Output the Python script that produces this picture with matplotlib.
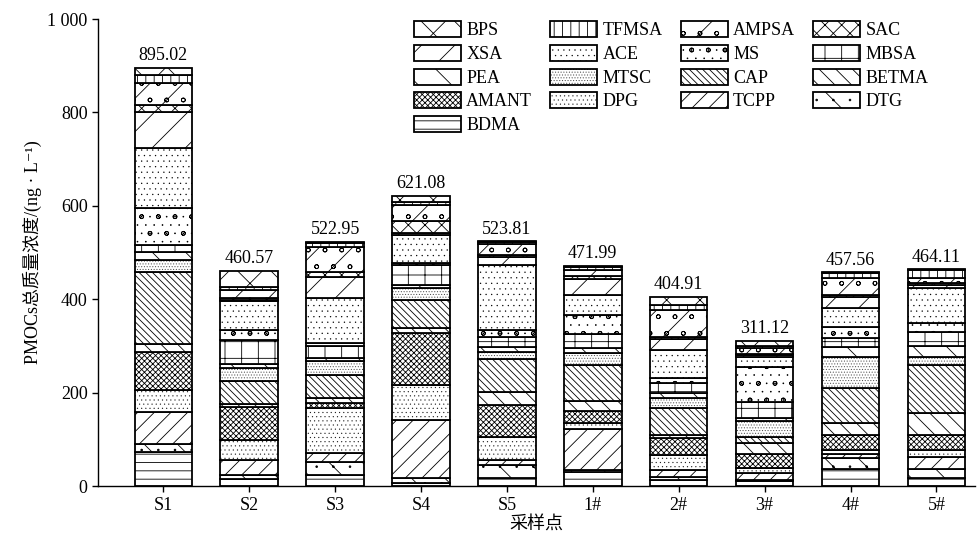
import numpy as np
import matplotlib
matplotlib.use("Agg")
import matplotlib.pyplot as plt
import matplotlib.hatch as mhatch

plt.rcParams['font.family'] = ['Liberation Serif', 'Noto Sans CJK SC', 'DejaVu Serif']
plt.rcParams['hatch.linewidth'] = 0.6

# finer dots and circles for the stippled fills
mhatch.SmallFilledCircles.size = 0.05
mhatch.SmallCircles.size = 0.12

samples = ['S1', 'S2', 'S3', 'S4', 'S5', '1#', '2#', '3#', '4#', '5#']

# concentrations per compound (ng/L), stacked bottom to top
BDMA = [73.5, 14.3, 23.6, 7.1, 16.4, 30.0, 12.8, 11.0, 35.7, 18.0]
DTG = [16.5, 8.5, 28.5, 9.3, 28.6, 5.0, 7.2, 2.5, 23.5, 18.0]
TCPP = [69.0, 32.2, 17.9, 124.9, 10.7, 87.8, 14.3, 13.6, 9.3, 26.8]
DPG = [46.6, 42.8, 96.3, 75.0, 49.9, 12.1, 32.1, 12.8, 8.6, 14.3]
AMANT = [82.0, 71.4, 10.7, 112.0, 67.8, 25.0, 35.6, 28.6, 32.1, 32.1]
BETMA = [16.4, 7.1, 10.7, 9.3, 28.6, 22.8, 7.2, 24.3, 25.0, 46.4]
CAP = [155.0, 47.8, 50.0, 60.7, 69.9, 75.7, 57.1, 12.8, 74.9, 103.5]
MTSC = [25.0, 28.6, 30.0, 25.0, 15.8, 26.4, 21.4, 34.3, 66.4, 17.8]
PEA = [17.7, 9.3, 5.7, 7.1, 10.7, 10.7, 10.7, 5.0, 21.4, 22.9]
MBSA = [14.3, 50.1, 27.0, 42.1, 21.3, 30.0, 22.9, 35.1, 19.3, 30.7]
MS = [78.6, 21.4, 5.1, 5.7, 14.3, 41.3, 9.3, 74.1, 24.9, 17.8]
ACE = [128.4, 62.1, 96.4, 58.6, 139.2, 42.9, 60.6, 22.8, 39.3, 75.0]
XSA = [78.5, 4.0, 46.3, 4.3, 18.1, 34.2, 22.9, 3.0, 24.6, 7.1]
SAC = [14.3, 3.2, 10.7, 27.1, 3.5, 5.1, 5.7, 2.0, 5.0, 4.6]
AMPSA = [47.8, 16.4, 53.6, 33.5, 22.9, 14.2, 57.1, 14.3, 34.7, 9.7]
TFMSA = [16.4, 7.1, 7.0, 7.1, 4.0, 5.0, 10.7, 3.6, 10.8, 17.3]
BPS = [15.02, 34.27, 3.45, 12.28, 2.11, 3.79, 17.31, 11.32, 2.06, 2.11]

stack = [
    ('BDMA', BDMA, '--'),
    ('DTG', DTG, '\\.'),
    ('TCPP', TCPP, '//'),
    ('DPG', DPG, '....'),
    ('AMANT', AMANT, 'xxxxxx'),
    ('BETMA', BETMA, '\\\\'),
    ('CAP', CAP, '\\\\\\\\\\'),
    ('MTSC', MTSC, '......'),
    ('PEA', PEA, '\\'),
    ('MBSA', MBSA, '+'),
    ('MS', MS, '..o'),
    ('ACE', ACE, '...'),
    ('XSA', XSA, '/'),
    ('SAC', SAC, 'xx'),
    ('AMPSA', AMPSA, '/o'),
    ('TFMSA', TFMSA, '||'),
    ('BPS', BPS, 'x'),
]

fig = plt.figure(figsize=(9.78, 5.45), dpi=100)
ax = fig.add_axes([0.1002, 0.108, 0.8968, 0.857])

x = np.arange(len(samples))
bottom = np.zeros(len(samples))
handles = {}
for name, vals, hatch in stack:
    vals = np.array(vals)
    bars = ax.bar(x, vals, width=0.67, bottom=bottom, color='white',
                  edgecolor='black', linewidth=1.3, hatch=hatch, label=name)
    handles[name] = bars
    bottom += vals

for xi, tot in zip(x, bottom):
    ax.text(xi, tot + 8, f'{tot:.2f}', ha='center', va='bottom', fontsize=13)

ax.set_xlim(-0.76, 9.45)
ax.set_ylim(0, 1000)
ax.set_yticks([0, 200, 400, 600, 800, 1000])
ax.set_yticklabels(['0', '200', '400', '600', '800', '1 000'])
ax.set_xticks(x)
ax.set_xticklabels(samples)
ax.tick_params(labelsize=13, direction='out', length=4, width=1)
ax.spines['top'].set_visible(False)
ax.spines['right'].set_visible(False)
ax.spines['left'].set_linewidth(1)
ax.spines['bottom'].set_linewidth(1)
ax.set_ylabel('PMOCs总质量浓度/(ng · L⁻¹)', fontsize=13)
ax.set_xlabel('采样点', fontsize=13, labelpad=2)

order = ['BPS', 'XSA', 'PEA', 'AMANT', 'BDMA',
         'TFMSA', 'ACE', 'MTSC', 'DPG',
         'AMPSA', 'MS', 'CAP', 'TCPP',
         'SAC', 'MBSA', 'BETMA', 'DTG']
ax.legend([handles[n] for n in order], order, ncol=4, frameon=False,
          loc='upper left', bbox_to_anchor=(0.352, 1.011), fontsize=13,
          handlelength=2.6, handleheight=1.0, handletextpad=0.3,
          columnspacing=1.0, labelspacing=0.3, borderaxespad=0)

fig.savefig('out.png', dpi=100)
